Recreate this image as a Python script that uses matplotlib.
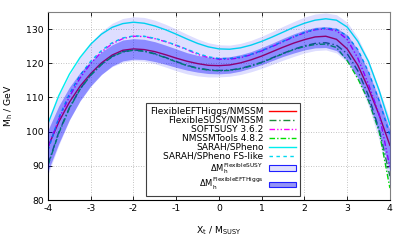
import matplotlib
matplotlib.use("Agg")
import matplotlib.pyplot as plt
from matplotlib.lines import Line2D
from matplotlib.patches import Patch

plt.rcParams['font.family'] = ['DejaVu Sans']
plt.rcParams['mathtext.fontset'] = 'dejavusans'

xt = [-4, -3.75, -3.5, -3.25, -3, -2.75, -2.5, -2.25, -2, -1.75, -1.5, -1.25, -1, -0.75,
      -0.5, -0.25, 0, 0.25, 0.5, 0.75, 1, 1.25, 1.5, 1.75, 2, 2.25, 2.5, 2.75, 3, 3.25,
      3.5, 3.75, 4]

feft = [95.6, 102.8, 108.6, 113.3, 117.0, 120.1, 122.4, 123.8, 124.2, 124.0, 123.4, 122.5,
        121.5, 120.6, 119.9, 119.4, 119.3, 119.5, 120.1, 121.0, 122.1, 123.4, 124.7, 125.9,
        126.9, 127.7, 127.9, 127.0, 124.2, 119.4, 112.6, 104.8, 96.0]

fs = [90.5, 99.8, 107.0, 112.5, 116.6, 119.7, 122.0, 123.4, 123.9, 123.6, 122.8, 121.7,
      120.5, 119.4, 118.6, 118.1, 117.9, 118.0, 118.5, 119.3, 120.3, 121.6, 122.9, 124.1,
      125.1, 125.8, 126.0, 125.3, 122.8, 117.8, 110.5, 100.5, 87.0]

softsusy = [95.3, 103.6, 110.2, 115.7, 120.0, 123.3, 125.7, 127.2, 127.9, 127.8, 127.2, 126.3,
            125.2, 124.0, 122.6, 121.7, 121.2, 121.2, 121.6, 122.5, 123.6, 124.9, 126.3, 127.7,
            128.9, 129.8, 130.1, 129.5, 127.0, 121.5, 113.8, 105.0, 89.5]

nmssmtools = [90.2, 99.5, 106.8, 112.4, 116.5, 119.6, 121.9, 123.3, 123.8, 123.5, 122.7, 121.6,
              120.4, 119.3, 118.5, 118.0, 117.8, 117.9, 118.4, 119.2, 120.2, 121.5, 122.8, 124.0,
              124.9, 125.5, 125.6, 124.6, 120.8, 115.5, 109.0, 100.0, 83.5]

spheno = [102.4, 110.5, 116.8, 121.7, 125.6, 128.5, 130.5, 131.6, 132.0, 131.7, 130.9, 129.8,
          128.5, 127.1, 125.8, 124.8, 124.2, 124.1, 124.5, 125.3, 126.4, 127.7, 129.1, 130.5,
          131.7, 132.6, 133.0, 132.6, 130.6, 126.4, 120.5, 112.0, 102.0]

spheno_fs = [94.6, 104.0, 111.0, 116.5, 120.6, 123.7, 126.0, 127.4, 128.0, 127.9, 127.3, 126.4,
             125.3, 124.1, 122.9, 121.9, 121.4, 121.4, 121.8, 122.6, 123.7, 125.0, 126.4, 127.8,
             129.0, 129.9, 130.3, 129.9, 128.0, 124.0, 117.5, 109.0, 99.0]

band_fs_lo = [87.5, 96.0, 103.3, 109.2, 113.6, 116.8, 119.0, 120.3, 120.8, 120.6, 119.9, 118.9,
              117.8, 116.9, 116.3, 116.0, 116.0, 116.2, 116.7, 117.5, 118.5, 119.7, 120.9, 122.0,
              123.0, 123.7, 123.9, 123.0, 120.3, 115.0, 107.5, 97.5, 84.0]
band_fs_hi = [103.5, 110.5, 116.5, 121.8, 126.0, 129.3, 131.7, 133.1, 133.6, 133.4, 132.6, 131.4,
              130.0, 128.5, 127.1, 126.0, 125.4, 125.3, 125.8, 126.7, 127.9, 129.3, 130.8, 132.2,
              133.5, 134.4, 134.7, 134.2, 132.0, 127.5, 121.0, 112.5, 103.5]

band_feft_lo = [88.5, 96.5, 103.5, 109.0, 113.3, 116.7, 119.2, 120.7, 121.2, 121.1, 120.5, 119.7,
                118.8, 118.0, 117.4, 117.0, 116.9, 117.1, 117.7, 118.6, 119.6, 120.8, 122.0, 123.0,
                123.9, 124.5, 124.6, 123.7, 120.8, 115.8, 108.5, 99.5, 88.5]
band_feft_hi = [100.5, 107.5, 113.0, 117.3, 120.6, 123.3, 125.4, 126.8, 127.2, 127.0, 126.3, 125.3,
                124.2, 123.1, 122.3, 121.8, 121.7, 121.9, 122.5, 123.4, 124.6, 125.9, 127.3, 128.6,
                129.7, 130.5, 130.7, 130.3, 128.3, 124.0, 117.5, 109.5, 100.5]

xticks = [-4, -3, -2, -1, 0, 1, 2, 3, 4]
yticks = [80, 90, 100, 110, 120, 130]

fig = plt.figure(figsize=(4.07, 2.44), dpi=100)
ax = fig.add_axes([0.118, 0.180, 0.840, 0.771])

lw = 1.0
ax.plot(xt, feft, color='#ff0000', lw=lw, zorder=2)
ax.plot(xt, fs, color='#1e8c3a', lw=lw, ls=(0, (5, 2, 1, 2)), zorder=2)
ax.plot(xt, softsusy, color='#ff00ff', lw=lw, ls=(0, (4, 1.5, 1, 1.5, 1, 1.5)), zorder=2)
ax.plot(xt, nmssmtools, color='#00e000', lw=lw, ls=(0, (4, 1.5, 1, 1.5)), zorder=2)
ax.plot(xt, spheno, color='#00eeee', lw=lw, zorder=2)
ax.plot(xt, spheno_fs, color='#00d8f0', lw=lw, ls=(0, (2.5, 2.5)), zorder=2)

c_light = (0.0, 0.0, 1.0, 0.13)
c_dark = (0.0, 0.0, 1.0, 0.37)
ax.fill_between(xt, band_fs_lo, band_fs_hi, color=c_light, lw=0, zorder=3)
ax.fill_between(xt, band_feft_lo, band_feft_hi, color=c_dark, lw=0, zorder=3)

ax.set_xlim(-4, 4)
ax.set_ylim(80, 135)
ax.set_xticks(xticks)
ax.set_yticks(yticks)
ax.set_xticklabels([str(v) for v in xticks])
ax.set_yticklabels([str(v) for v in yticks])
ax.tick_params(direction='in', length=3, width=0.6, labelsize=6.7, top=True, right=True, pad=3)
ax.grid(True, color='#b0b0b0', ls=(0, (1, 2)), lw=0.6, zorder=0)
for side in ['top', 'right']:
    ax.spines[side].set_color('#808080')
for side in ['left', 'bottom']:
    ax.spines[side].set_color('black')
for s in ax.spines.values():
    s.set_linewidth(0.8)

ax.set_xlabel(r'X$_\mathregular{t}$ / M$_\mathregular{SUSY}$', fontsize=6.7, labelpad=8)
ax.set_ylabel(r'M$_\mathregular{h}$ / GeV', fontsize=6.7, labelpad=8)

handles = [
    Line2D([], [], color='#ff0000', lw=lw),
    Line2D([], [], color='#1e8c3a', lw=lw, ls=(0, (5, 2, 1, 2))),
    Line2D([], [], color='#ff00ff', lw=lw, ls=(0, (4, 1.5, 1, 1.5, 1, 1.5))),
    Line2D([], [], color='#00e000', lw=lw, ls=(0, (4, 1.5, 1, 1.5))),
    Line2D([], [], color='#00eeee', lw=lw),
    Line2D([], [], color='#00d8f0', lw=lw, ls=(0, (2.5, 2.5))),
    Patch(facecolor=(0.88, 0.88, 0.99), edgecolor='#2020ff', lw=0.8),
    Patch(facecolor=(0.58, 0.58, 0.96), edgecolor='#2020ff', lw=0.8),
]
labels = [
    'FlexibleEFTHiggs/NMSSM',
    'FlexibleSUSY/NMSSM',
    'SOFTSUSY 3.6.2',
    'NMSSMTools 4.8.2',
    'SARAH/SPheno',
    'SARAH/SPheno FS-like',
    r'$\Delta$M$_\mathregular{h}^\mathregular{FlexibleSUSY}$',
    r'$\Delta$M$_\mathregular{h}^\mathregular{FlexibleEFTHiggs}$',
]
leg = ax.legend(handles, labels, loc='lower right', bbox_to_anchor=(0.737, 0.021),
                borderaxespad=0, fontsize=6.5, markerfirst=False, fancybox=False,
                handlelength=3.0, handletextpad=0.6, labelspacing=0.0, borderpad=0.45,
                handleheight=0.6, framealpha=1, edgecolor='#404040')
leg.get_frame().set_linewidth(0.8)
leg.set_zorder(5)
for t in leg.get_texts()[6:]:
    t.set_fontsize(6.0)

fig.savefig('out.png', dpi=100)
